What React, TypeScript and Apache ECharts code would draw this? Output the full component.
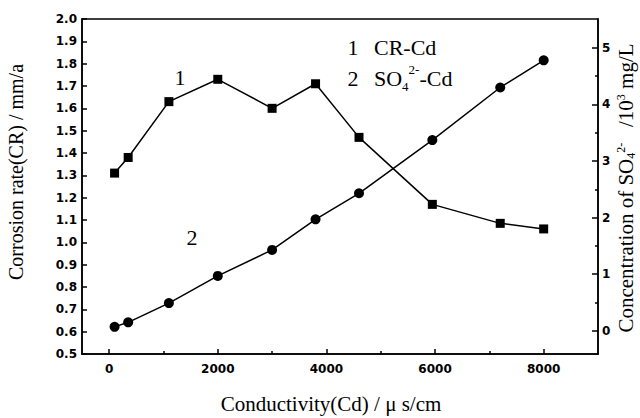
import React, { useEffect, useRef } from "react";
import * as echarts from "echarts";

// Conductivity (Cd), µs/cm
const conductivity = [100, 350, 1100, 2000, 3000, 3800, 4600, 5950, 7200, 8000];
// Corrosion rate (CR), mm/a  (left axis)
const corrosionRate = [1.31, 1.38, 1.63, 1.73, 1.6, 1.71, 1.47, 1.17, 1.085, 1.06];
// SO4 2- concentration, 10^3 mg/L (right axis)
const so4 = [0.07, 0.15, 0.49, 0.97, 1.43, 1.97, 2.43, 3.37, 4.3, 4.78];

const xMajorTicks = [0, 2000, 4000, 6000, 8000];
const xMinorTicks = [1000, 3000, 5000, 7000];
const rightMajorTicks = [0, 1, 2, 3, 4, 5];
const rightMinorTicks = [0.5, 1.5, 2.5, 3.5, 4.5];

const SERIF = "'Liberation Serif', 'Times New Roman', serif";
const SANS = "'DejaVu Sans', sans-serif";

export default function App() {
  const ref = useRef<HTMLDivElement>(null);
  useEffect(() => {
    if (!ref.current) return;
    const chart = echarts.init(ref.current, null, { renderer: "svg" });
    const labelStyle = {
      color: "#000",
      fontFamily: SANS,
      fontWeight: "bold" as const,
      fontSize: 12,
    };
    const axisLine = { show: true, onZero: false, lineStyle: { color: "#000", width: 1.5 } };
    const noLine = { show: false, onZero: false };
    const crData = conductivity.map((c, i) => [c, corrosionRate[i]]);
    const soData = conductivity.map((c, i) => [c, so4[i]]);
    chart.setOption({
      animation: false,
      backgroundColor: "#fff",
      grid: {
        left: 82,
        right: 42,
        top: 19,
        bottom: 64,
        show: true,
        borderColor: "#000",
        borderWidth: 1.5,
        backgroundColor: "transparent",
      },
      xAxis: [
        {
          type: "value",
          min: -500,
          max: 9000,
          position: "bottom",
          axisLine,
          splitLine: { show: false },
          axisTick: {
            show: true,
            inside: true,
            length: 5,
            customValues: xMajorTicks,
            lineStyle: { color: "#000", width: 1.5 },
          },
          axisLabel: {
            ...labelStyle,
            margin: 9,
            customValues: xMajorTicks,
            formatter: (v: number) => String(v),
          },
        },
        {
          type: "value",
          min: -500,
          max: 9000,
          position: "bottom",
          axisLine: noLine,
          splitLine: { show: false },
          axisTick: {
            show: true,
            inside: true,
            length: 3,
            customValues: xMinorTicks,
            lineStyle: { color: "#000", width: 1.5 },
          },
          axisLabel: { show: false },
        },
      ],
      yAxis: [
        {
          type: "value",
          min: 0.5,
          max: 2.0,
          interval: 0.1,
          position: "left",
          axisLine,
          splitLine: { show: false },
          axisTick: { show: true, inside: true, length: 5, lineStyle: { color: "#000", width: 1.5 } },
          axisLabel: {
            ...labelStyle,
            margin: 5,
            formatter: (v: number) => v.toFixed(1),
          },
        },
        {
          type: "value",
          min: -0.41,
          max: 5.51,
          position: "right",
          axisLine,
          splitLine: { show: false },
          axisTick: {
            show: true,
            inside: true,
            length: 6,
            customValues: rightMajorTicks,
            lineStyle: { color: "#000", width: 1.5 },
          },
          axisLabel: {
            ...labelStyle,
            margin: 4,
            customValues: rightMajorTicks,
            formatter: (v: number) => String(v),
          },
        },
        {
          type: "value",
          min: -0.41,
          max: 5.51,
          position: "right",
          axisLine: noLine,
          splitLine: { show: false },
          axisTick: {
            show: true,
            inside: true,
            length: 3,
            customValues: rightMinorTicks,
            lineStyle: { color: "#000", width: 1.5 },
          },
          axisLabel: { show: false },
        },
      ],
      series: [
        {
          type: "line",
          name: "CR-Cd",
          xAxisIndex: 0,
          yAxisIndex: 0,
          data: crData,
          symbol: "rect",
          symbolSize: 9,
          itemStyle: { color: "#000" },
          lineStyle: { color: "#000", width: 1.5 },
        },
        {
          type: "line",
          name: "SO4-Cd",
          xAxisIndex: 0,
          yAxisIndex: 1,
          data: soData,
          symbol: "circle",
          symbolSize: 10,
          itemStyle: { color: "#000" },
          lineStyle: { color: "#000", width: 1.5 },
        },
      ],
      graphic: [
        {
          type: "text",
          x: 16,
          y: 172,
          rotation: Math.PI / 2,
          style: {
            text: "Corrosion rate(CR) / mm/a",
            fontFamily: SERIF,
            fontSize: 20,
            fill: "#000",
            align: "center",
            verticalAlign: "middle",
          },
        },
        {
          type: "text",
          x: 331,
          y: 404,
          style: {
            text: "Conductivity(Cd) / \u03bc s/cm",
            fontFamily: SERIF,
            fontSize: 21,
            fill: "#000",
            align: "center",
            verticalAlign: "middle",
          },
        },
        {
          type: "text",
          x: 626,
          y: 188,
          rotation: Math.PI / 2,
          style: {
            text: "{n|Concentration of SO}{sub|4}{sup|2-}{n|   /10}{sup|3}{n| mg/L}",
            fill: "#000",
            align: "center",
            verticalAlign: "middle",
            rich: {
              n: { fontFamily: SERIF, fontSize: 21, lineHeight: 22, fill: "#000" },
              sub: { fontFamily: SERIF, fontSize: 12, lineHeight: 12, verticalAlign: "bottom", fill: "#000" },
              sup: { fontFamily: SERIF, fontSize: 12, lineHeight: 12, verticalAlign: "top", fill: "#000" },
            },
          },
        },
        {
          type: "text",
          x: 353,
          y: 47,
          style: { text: "1", fontFamily: SERIF, fontSize: 22, fill: "#000", align: "center", verticalAlign: "middle" },
        },
        {
          type: "text",
          x: 374,
          y: 47,
          style: { text: "CR-Cd", fontFamily: SERIF, fontSize: 22, fill: "#000", align: "left", verticalAlign: "middle" },
        },
        {
          type: "text",
          x: 353,
          y: 78,
          style: { text: "2", fontFamily: SERIF, fontSize: 22, fill: "#000", align: "center", verticalAlign: "middle" },
        },
        {
          type: "text",
          x: 374,
          y: 78,
          style: {
            text: "{n|SO}{sub|4}{sup|2-}{n|-Cd}",
            fill: "#000",
            align: "left",
            verticalAlign: "middle",
            rich: {
              n: { fontFamily: SERIF, fontSize: 22, lineHeight: 30, fill: "#000" },
              sub: { fontFamily: SERIF, fontSize: 13, lineHeight: 14, verticalAlign: "bottom", fill: "#000" },
              sup: { fontFamily: SERIF, fontSize: 13, lineHeight: 14, verticalAlign: "top", fill: "#000" },
            },
          },
        },
        {
          type: "text",
          x: 180,
          y: 77,
          style: { text: "1", fontFamily: SERIF, fontSize: 22, fill: "#000", align: "center", verticalAlign: "middle" },
        },
        {
          type: "text",
          x: 192,
          y: 237,
          style: { text: "2", fontFamily: SERIF, fontSize: 22, fill: "#000", align: "center", verticalAlign: "middle" },
        },
      ],
    });
    return () => chart.dispose();
  }, []);
  return (
    <div
      ref={ref}
      style={{ position: "fixed", left: 0, top: 0, width: 640, height: 418 }}
    />
  );
}
